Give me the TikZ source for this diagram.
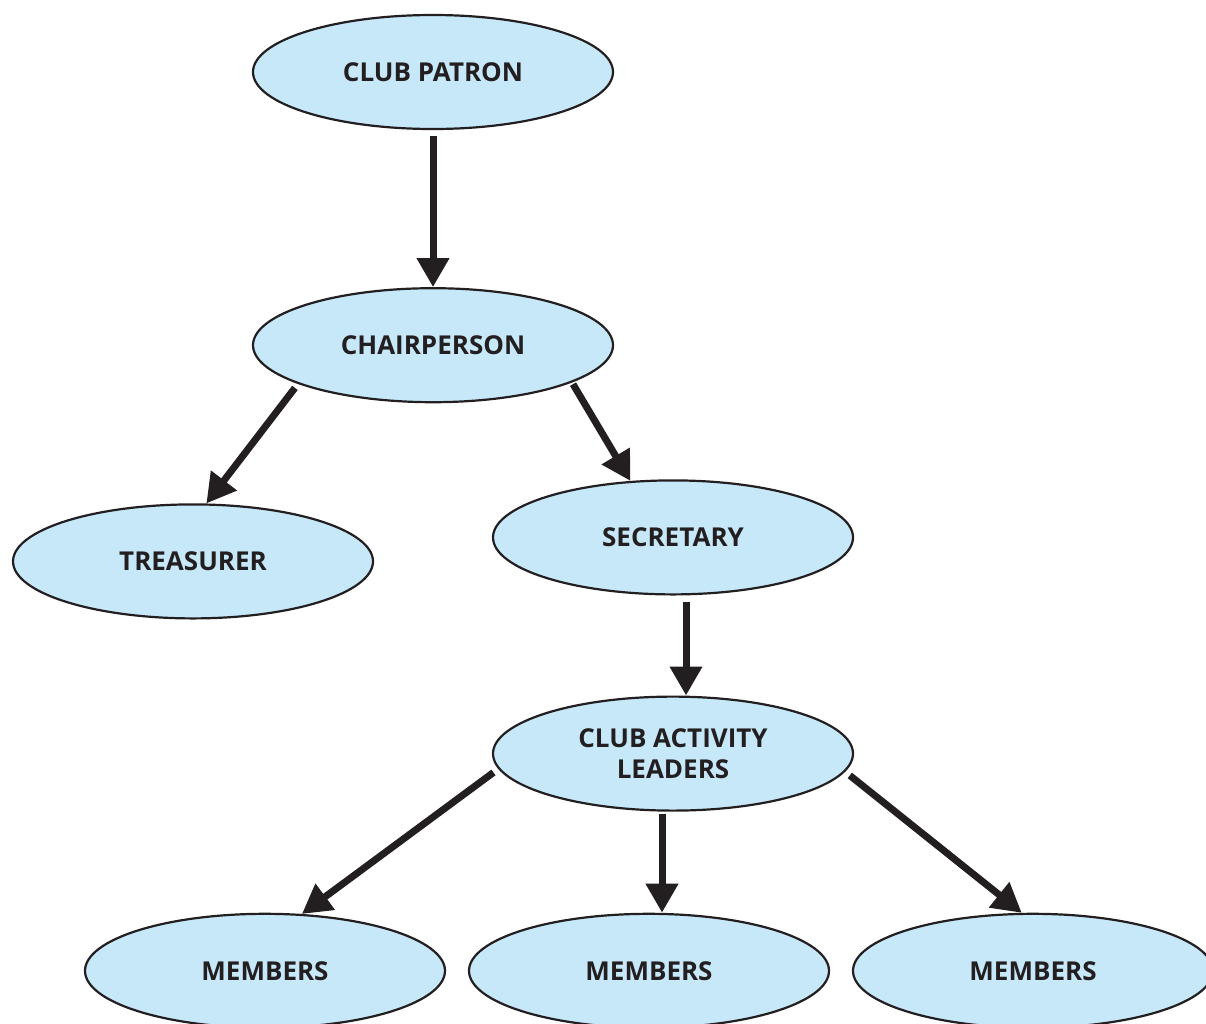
\documentclass[tikz,border=0pt]{standalone}
\usepackage{fontspec}
\setmainfont{Open Sans}
\usetikzlibrary{shapes.geometric,arrows.meta,positioning}

\definecolor{roleblue}{RGB}{198,232,248}
\definecolor{inkdark}{RGB}{35,31,32}

\tikzset{
  role/.style={ellipse, draw=inkdark, line width=2.2pt, fill=roleblue,
    minimum width=360pt, minimum height=114pt, inner sep=0pt,
    text=inkdark, align=center, font=\fontsize{26}{31}\selectfont\bfseries},
  link/.style={draw=inkdark, line width=7pt, -{Triangle[width=31pt,length=29pt]}},
}

\begin{document}
\begin{tikzpicture}

  \clip (0,0) rectangle (1206pt,-1023pt);

  % Define nodes

  % Patron and chair
  \node[role] (patron) at (433pt,-72pt) {CLUB PATRON}; %
  \node[role, below=157pt of patron] (chair) {CHAIRPERSON}; %

  % Treasurer and secretary
  \node[role, below=100pt of chair, xshift=-240pt] (treas) {TREASURER}; %
  \node[role, below=76pt of chair, xshift=240pt]   (sec)   {SECRETARY}; %

  % Activity leaders
  \node[role, below=100pt of sec] (lead) {CLUB ACTIVITY\\LEADERS}; %

  % Members
  \node[role, below=101pt of lead, xshift=-408pt] (m1) {MEMBERS}; %
  \node[role, below=101pt of lead, xshift=-24pt]  (m2) {MEMBERS}; %
  \node[role, below=101pt of lead, xshift=360pt]  (m3) {MEMBERS}; %

  % Edges
  \draw[link, shorten <=6pt] (patron) -- (chair); %
  \draw[link, shorten <=5pt] (chair.-164) -- (treas.77); %
  \draw[link, shorten <=2pt] (chair.-15) -- (sec.127); %
  \draw[link, shorten <=6pt] ([xshift=13pt]sec.south) -- ([xshift=13pt]lead.north); %

  % Leaders to members
  \draw[link, shorten <=6pt] (lead.-175) -- (m1.57); %
  \draw[link, shorten <=2pt] ([xshift=-11pt]lead.south) -- ([xshift=13pt]m2.north); %
  \draw[link, shorten <=6pt] (lead.-6) -- (m3.101); %

\end{tikzpicture}
\end{document}
